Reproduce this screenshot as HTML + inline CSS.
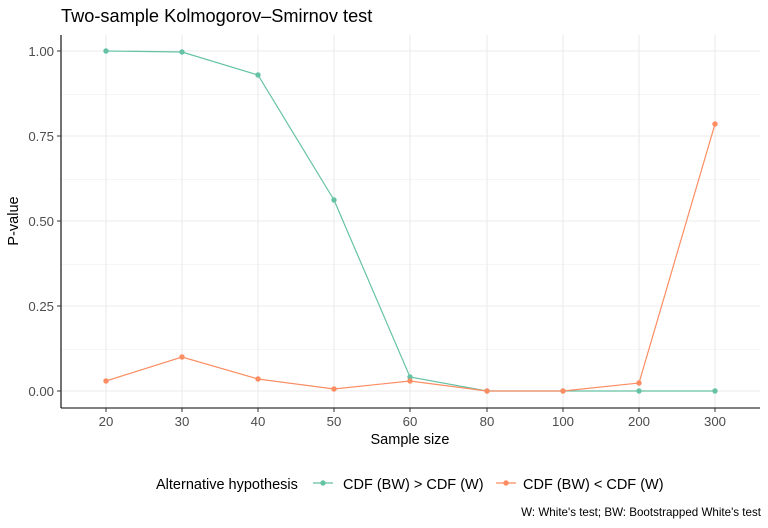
<!DOCTYPE html>
<html><head><style>body{margin:0;background:#fff}svg{display:block}</style></head><body>
<svg width="768" height="528" xmlns="http://www.w3.org/2000/svg" font-family="Liberation Sans, sans-serif">
<rect width="768" height="528" fill="#fff"/>
<text x="61" y="22" font-size="18.2" fill="#000">Two-sample Kolmogorov–Smirnov test</text>
<g stroke="#ebebeb" stroke-width="0.6">
<line x1="61" x2="760" y1="94.5" y2="94.5"/><line x1="61" x2="760" y1="179.5" y2="179.5"/><line x1="61" x2="760" y1="264.5" y2="264.5"/><line x1="61" x2="760" y1="349.5" y2="349.5"/>
</g>
<g stroke="#ebebeb" stroke-width="1.1">
<line x1="61" x2="760" y1="51" y2="51"/><line x1="61" x2="760" y1="136" y2="136"/><line x1="61" x2="760" y1="221" y2="221"/><line x1="61" x2="760" y1="306" y2="306"/><line x1="61" x2="760" y1="391" y2="391"/>
<line x1="106" x2="106" y1="35" y2="408"/><line x1="182" x2="182" y1="35" y2="408"/><line x1="258" x2="258" y1="35" y2="408"/><line x1="334" x2="334" y1="35" y2="408"/><line x1="410" x2="410" y1="35" y2="408"/><line x1="487" x2="487" y1="35" y2="408"/><line x1="563" x2="563" y1="35" y2="408"/><line x1="639" x2="639" y1="35" y2="408"/><line x1="715" x2="715" y1="35" y2="408"/>
</g>
<line x1="61" x2="61" y1="35" y2="408" stroke="#000" stroke-width="1.1"/>
<line x1="61" x2="760" y1="408" y2="408" stroke="#000" stroke-width="1.1"/>
<g font-size="13.2" fill="#4d4d4d" text-anchor="end">
<text x="54" y="56">1.00</text><text x="54" y="141">0.75</text><text x="54" y="226">0.50</text><text x="54" y="311">0.25</text><text x="54" y="396">0.00</text>
</g>
<g stroke="#333" stroke-width="1"><line x1="57" x2="61" y1="51" y2="51"/><line x1="57" x2="61" y1="136" y2="136"/><line x1="57" x2="61" y1="221" y2="221"/><line x1="57" x2="61" y1="306" y2="306"/><line x1="57" x2="61" y1="391" y2="391"/>
<line x1="106" x2="106" y1="408" y2="412"/><line x1="182" x2="182" y1="408" y2="412"/><line x1="258" x2="258" y1="408" y2="412"/><line x1="334" x2="334" y1="408" y2="412"/><line x1="410" x2="410" y1="408" y2="412"/><line x1="487" x2="487" y1="408" y2="412"/><line x1="563" x2="563" y1="408" y2="412"/><line x1="639" x2="639" y1="408" y2="412"/><line x1="715" x2="715" y1="408" y2="412"/></g>
<g font-size="13.2" fill="#4d4d4d" text-anchor="middle">
<text x="106" y="426">20</text><text x="182" y="426">30</text><text x="258" y="426">40</text><text x="334" y="426">50</text><text x="410" y="426">60</text><text x="487" y="426">80</text><text x="563" y="426">100</text><text x="639" y="426">200</text><text x="715" y="426">300</text>
</g>
<text x="410" y="444" font-size="14.5" text-anchor="middle">Sample size</text>
<text transform="translate(18,221) rotate(-90)" font-size="14.5" text-anchor="middle">P-value</text>
<polyline fill="none" stroke="#66c2a5" stroke-width="1.2" points="106,51 182,52 258,75 334,200 410,377 487,391 563,391 639,391 715,391"/>
<polyline fill="none" stroke="#fc8d62" stroke-width="1.2" points="106,381 182,357 258,379 334,389 410,381 487,391 563,391 639,383 715,124"/>
<g fill="#66c2a5"><circle cx="106" cy="51" r="2.7"/><circle cx="182" cy="52" r="2.7"/><circle cx="258" cy="75" r="2.7"/><circle cx="334" cy="200" r="2.7"/><circle cx="410" cy="377" r="2.7"/><circle cx="487" cy="391" r="2.7"/><circle cx="563" cy="391" r="2.7"/><circle cx="639" cy="391" r="2.7"/><circle cx="715" cy="391" r="2.7"/></g>
<g fill="#fc8d62"><circle cx="106" cy="381" r="2.7"/><circle cx="182" cy="357" r="2.7"/><circle cx="258" cy="379" r="2.7"/><circle cx="334" cy="389" r="2.7"/><circle cx="410" cy="381" r="2.7"/><circle cx="487" cy="391" r="2.7"/><circle cx="563" cy="391" r="2.7"/><circle cx="639" cy="383" r="2.7"/><circle cx="715" cy="124" r="2.7"/></g>
<text x="156" y="489" font-size="14.5">Alternative hypothesis</text>
<line x1="313" x2="333" y1="483" y2="483" stroke="#66c2a5" stroke-width="1.2"/><circle cx="323" cy="483" r="2.7" fill="#66c2a5"/>
<text x="343" y="489" font-size="14.5">CDF (BW) &gt; CDF (W)</text>
<line x1="496" x2="516" y1="483" y2="483" stroke="#fc8d62" stroke-width="1.2"/><circle cx="506" cy="483" r="2.7" fill="#fc8d62"/>
<text x="523" y="489" font-size="14.5">CDF (BW) &lt; CDF (W)</text>
<text x="761" y="516" font-size="11.6" text-anchor="end">W: White's test; BW: Bootstrapped White's test</text>
</svg>
</body></html>
